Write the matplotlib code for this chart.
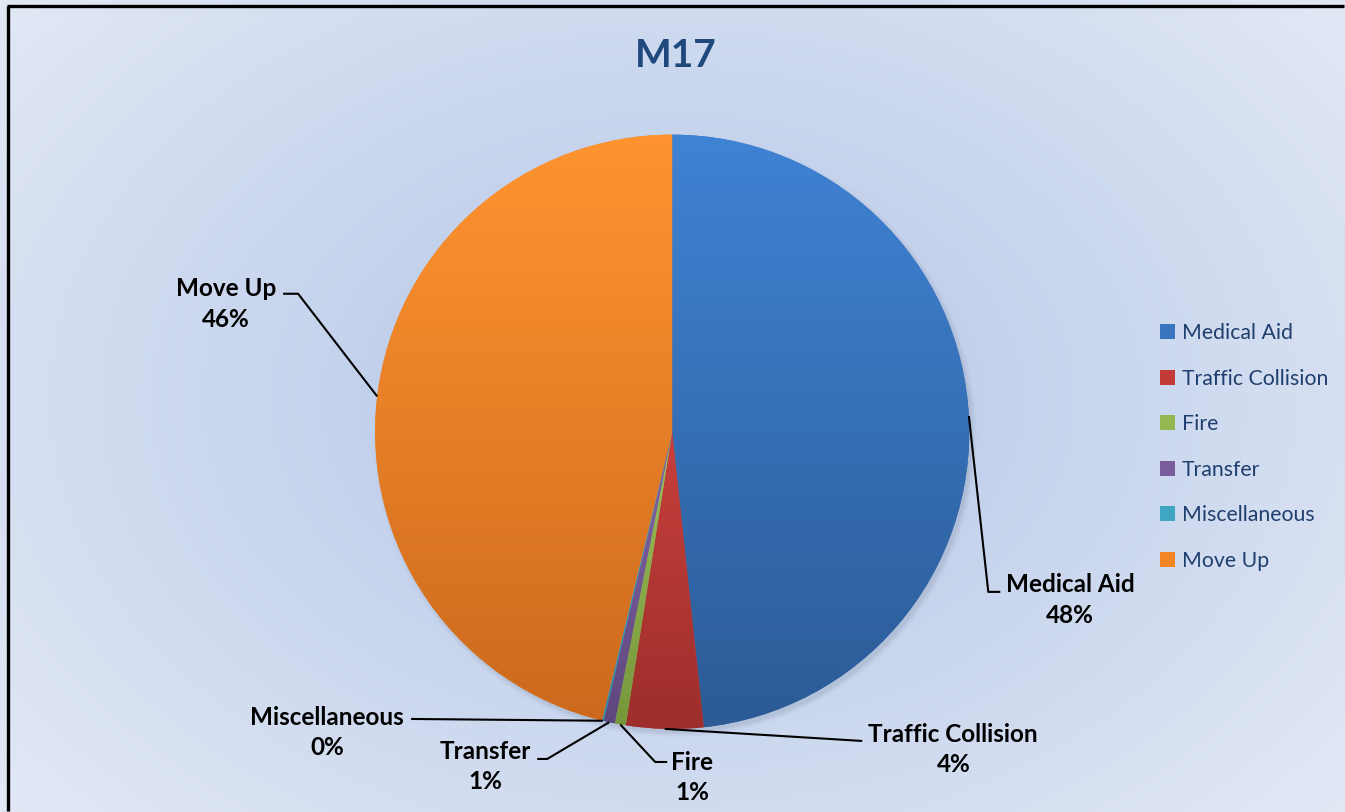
import numpy as np
import matplotlib
matplotlib.use("Agg")
import matplotlib.pyplot as plt
from matplotlib.patches import Patch, Circle
from matplotlib.colors import to_rgb

plt.rcParams['font.family'] = ['Lato', 'DejaVu Sans']

# data (percent of calls)
categories = ["Medical Aid", "Traffic Collision", "Fire", "Transfer", "Miscellaneous", "Move Up"]
values = [48.3, 4.2, 0.6, 0.6, 0.1, 46.2]
title = "M17"

# light (top) / dark (bottom) shades for each slice
light = ["#3f83d4", "#c8403c", "#9fc15a", "#8466a8", "#4cb4cf", "#ff9430"]
dark = ["#2c5b96", "#9c2e2b", "#76963b", "#5e477d", "#2f8aa3", "#cc691d"]
legend_cols = ["#3a74bf", "#c23a37", "#93b84f", "#7a5c9c", "#3ea5c2", "#f48525"]

W, H = 1345, 812
cx, cy, R = 672, 432, 297

# label layout in pixel coords: text centre, elbow points
label_pos = {
    "Medical Aid": ((1070, 600), [(988, 592), (1000, 592)]),
    "Traffic Collision": ((953, 749), [(862, 741)]),
    "Fire": ((692, 777), [(655, 762), (667, 762)]),
    "Transfer": ((485, 766), [(547, 759), (537, 759)]),
    "Miscellaneous": ((327, 732), [(411, 719)]),
    "Move Up": ((226, 304), [(298, 294), (283, 294)]),
}


def py(y):
    return H - y


fig = plt.figure(figsize=((W + 0.4) / 100, (H + 0.4) / 100), dpi=100)
ax = fig.add_axes([0, 0, 1, 1])

# radial background
pad = 40
xx, yy = np.meshgrid(np.linspace(-pad, W + pad, 400), np.linspace(-pad, H + pad, 240))
d = np.sqrt(((xx - cx) / 900) ** 2 + ((yy - py(400)) / 640) ** 2)
d = np.clip(d, 0, 1)[..., None]
c_in, c_out = np.array(to_rgb("#b2c5e7")), np.array(to_rgb("#e3e9f5"))
bg = c_in * (1 - d) + c_out * d
ax.imshow(bg, extent=[-pad, W + pad, -pad, H + pad], origin="lower", zorder=-10,
          interpolation="bilinear")

# soft shadow
for k, a in [(7, 0.04), (5, 0.06), (3, 0.08)]:
    ax.add_patch(Circle((cx + 3, py(cy) - 4), R + k - 3, color="#4a5a78", alpha=a, lw=0, zorder=0.5))

wedges, _ = ax.pie(values, colors=legend_cols, startangle=90, counterclock=False,
                   radius=R, center=(cx, py(cy)), wedgeprops=dict(linewidth=0))

# vertical gradient fill clipped to each wedge
for w, lc, dc in zip(wedges, light, dark):
    ext = w.get_path().get_extents()
    t = np.linspace(0, 1, 256)[:, None, None]
    grad = np.array(to_rgb(dc)) * (1 - t) + np.array(to_rgb(lc)) * t
    grad = np.repeat(grad, 2, axis=1)
    im = ax.imshow(grad, extent=[ext.x0 - 2, ext.x1 + 2, ext.y0 - 2, ext.y1 + 2], origin="lower",
                   zorder=2, interpolation="bilinear", aspect="auto")
    im.set_clip_path(w)

# data labels with leader lines
total = sum(values)
for w, name, v in zip(wedges, categories, values):
    mid = np.deg2rad((w.theta1 + w.theta2) / 2)
    ax_pt = (cx + R * np.cos(mid), py(cy) + R * np.sin(mid))
    (tx, ty), elbows = label_pos[name]
    pts = [ax_pt] + [(x, py(y)) for x, y in elbows]
    ax.plot([p[0] for p in pts], [p[1] for p in pts], color="black", lw=1.5, zorder=3,
            solid_capstyle="butt")
    ax.text(tx, py(ty), f"{name}\n{round(v / total * 100):.0f}%", ha="center", va="center",
            multialignment="center", fontsize=17.5, fontweight="bold", color="black",
            linespacing=1.4, zorder=4)

ax.text(676, py(55), title, ha="center", va="center", fontsize=28, fontweight="bold",
        color="#1f497d")

handles = [Patch(facecolor=c, edgecolor="none") for c in legend_cols]
ax.legend(handles, categories, loc="center left", bbox_to_anchor=(1149 / W, 1 - 447 / H),
          frameon=False, fontsize=15.3, labelcolor="#1f3f6e", handlelength=0.72,
          handleheight=0.72, handletextpad=0.3, labelspacing=1.2, borderpad=0)

# chart border (top and left visible), kept inside the canvas
ax.plot([7, W - 1], [py(6.5), py(6.5)], color="black", lw=2.4, zorder=6,
        solid_capstyle="butt", clip_on=False)
ax.plot([8, 8], [1, py(6.5)], color="black", lw=2.4, zorder=6,
        solid_capstyle="butt", clip_on=False)

ax.set_xlim(0, W)
ax.set_ylim(0, H)
ax.set_axis_off()

fig.savefig("out.png", dpi=100, facecolor="white")
